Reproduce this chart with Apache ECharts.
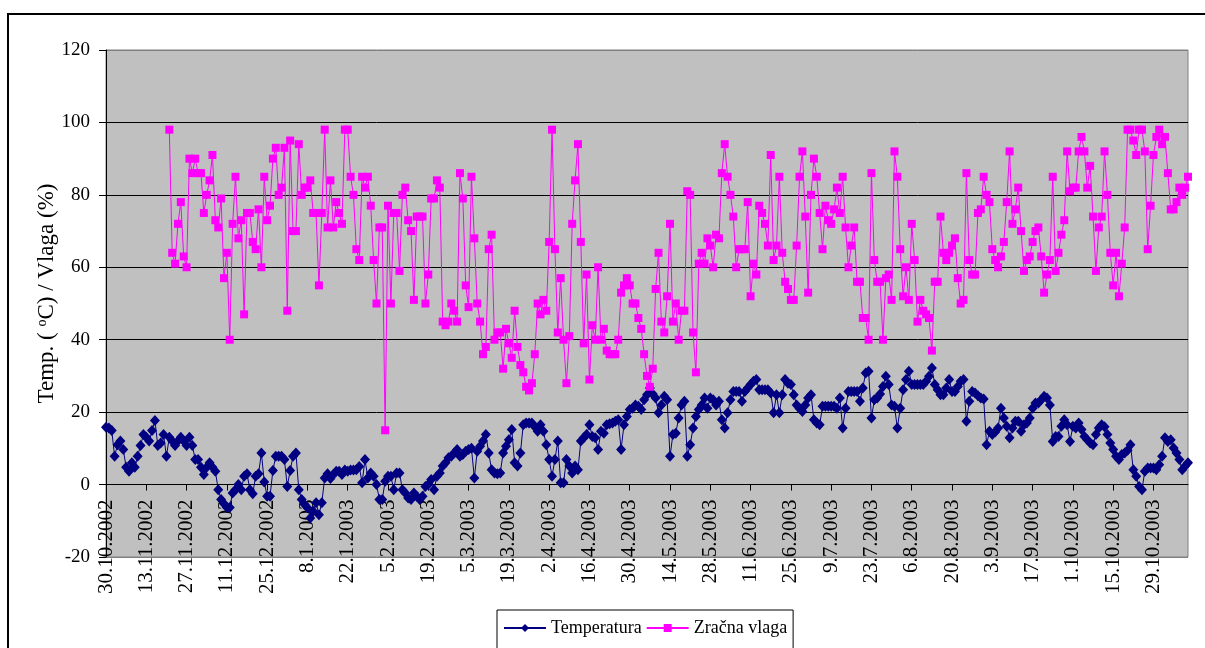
<!DOCTYPE html>
<html>
<head>
<meta charset="utf-8">
<script src="https://cdn.jsdelivr.net/npm/echarts@6/dist/echarts.min.js"></script>
<style>
  html, body { margin: 0; padding: 0; background: #ffffff; }
  #chart { width: 1205px; height: 648px; }
</style>
</head>
<body>
<div id="chart"></div>
<script>
// Daily series from 30.10.2002 (one value per day)
const startDay = { year: 2002, month: 10, day: 30 };
const dayCount = 377;

// Daily mean air temperature (°C)
const temperature = [
  15.8, 15.6, 14.9, 7.8, 11, 12, 9.7, 4.8, 3.7, 6,
  4.8, 7.8, 10.8, 13.8, 13.1, 12, 14.9, 17.7, 10.8, 11.5,
  13.8, 7.8, 13.1, 12, 10.8, 12, 13.1, 12, 10.8, 13.1,
  10.8, 6.9, 6.9, 4.8, 2.8, 4.8, 6, 4.8, 3.7, -1.4,
  -4.1, -5.3, -6.3, -6.3, -2.3, -1.4, 0, -1.4, 2.3, 3,
  -1.4, -2.5, 2.3, 3, 8.7, 0.7, -3.2, -3.2, 3.9, 7.8,
  7.8, 7.8, 6.9, -0.5, 3.9, 7.8, 8.7, -1.4, -4.1, -5.5,
  -6.4, -9.2, -7.4, -5, -8.3, -5, 1.8, 3, 1.7, 2.8,
  3.7, 3.7, 2.8, 4, 3.7, 4, 4, 4.1, 5, 0.5,
  6.9, 1.8, 3.2, 2.3, 0, -4.1, -4.1, 0.9, 2.3, 2.3,
  -1.4, 3.2, 3.2, -1.4, -2.3, -3.7, -4.1, -2.3, -3.2, -4.1,
  -3.2, -0.5, 0, 1.4, -1.4, 2.3, 3.2, 5.1, 6, 7.4,
  7.8, 8.7, 9.7, 7.8, 8.3, 9.2, 9.7, 10, 1.8, 9.2,
  10.6, 12, 13.8, 8.7, 4.1, 3.2, 3, 3.2, 8.7, 10.6,
  12.4, 15.2, 6, 5.1, 8.7, 16.5, 17, 17, 17, 16,
  14.7, 16.5, 14.7, 11, 6.9, 2.3, 6.9, 12, 0.5, 0.5,
  6.9, 5.1, 3.2, 5.1, 4.1, 12, 12.9, 13.8, 16.5, 13.3,
  12.9, 9.7, 14.7, 14.2, 16.5, 16.8, 17, 17.5, 17.9, 9.7,
  16.5, 18.8, 20.7, 21.1, 22, 21.6, 20.7, 23.4, 24.8, 26.7,
  25, 23.9, 19.8, 22, 24.4, 23.4, 7.8, 13.8, 14.2, 18.4,
  22, 23, 7.8, 11, 15.6, 18.8, 20.7, 22, 23.9, 21.1,
  23.9, 23.4, 22, 23, 17.9, 15.6, 19.8, 23.4, 25.7, 25.7,
  25.7, 23, 25.7, 26.7, 27.6, 28.5, 29, 26.2, 26.2, 26.2,
  26.2, 25.3, 19.8, 24.8, 19.8, 24.8, 29, 28, 27.6, 24.8,
  22, 21, 20.2, 22, 23.9, 24.8, 17.9, 17, 16.5, 21.6,
  21.6, 21.6, 21.6, 21.6, 21.1, 23.9, 15.6, 21.1, 25.7, 25.7,
  25.7, 25.7, 23, 26.7, 30.8, 31.3, 18.4, 23.4, 23.9, 25,
  27.1, 29.9, 27.6, 22, 21.6, 15.6, 21.1, 26.2, 29, 31.3,
  27.6, 27.6, 27.6, 27.6, 27.6, 28.5, 29.9, 32.2, 27.6, 26.2,
  24.8, 24.8, 26.7, 29, 25.7, 25.7, 27.1, 28.5, 29, 17.5,
  23, 25.7, 25.3, 24.5, 23.9, 23.6, 11, 14.7, 13.8, 14.5,
  15.6, 21.1, 18.4, 16.1, 12.9, 15.6, 17.5, 17.5, 14.7, 16.5,
  17, 18.4, 21.1, 22.5, 22.5, 23.4, 24.4, 23.9, 22, 11.9,
  13.3, 13.3, 16.1, 17.9, 16.5, 11.9, 16.1, 15.6, 17, 15.2,
  13.3, 12.4, 11.5, 11, 13.8, 15.6, 16.5, 16, 13.8, 11.5,
  9.7, 7.8, 6.9, 8.3, 8.7, 9.5, 11, 4.1, 2.3, -0.5,
  -1.4, 3.7, 4.6, 4.6, 4.6, 4.1, 5.5, 7.8, 12.9, 11.9,
  12.4, 10.1, 8.7, 6.9, 4.1, 5.1, 6
];

// Daily relative air humidity (%); measurements start on 21.11.2002
const humidity = [
  null, null, null, null, null, null, null, null, null, null,
  null, null, null, null, null, null, null, null, null, null,
  null, null, 98, 64, 61, 72, 78, 63, 60, 90,
  86, 90, 86, 86, 75, 80, 84, 91, 73, 71,
  79, 57, 64, 40, 72, 85, 68, 73, 47, 75,
  75, 67, 65, 76, 60, 85, 73, 77, 90, 93,
  80, 82, 93, 48, 95, 70, 70, 94, 80, 82,
  82, 84, 75, 75, 55, 75, 98, 71, 84, 71,
  78, 75, 72, 98, 98, 85, 80, 65, 62, 85,
  82, 85, 77, 62, 50, 71, 71, 15, 77, 50,
  75, 75, 59, 80, 82, 73, 70, 51, 74, 74,
  74, 50, 58, 79, 79, 84, 82, 45, 44, 45,
  50, 48, 45, 86, 79, 55, 49, 85, 68, 50,
  45, 36, 38, 65, 69, 40, 42, 42, 32, 43,
  39, 35, 48, 38, 33, 31, 27, 26, 28, 36,
  50, 47, 51, 48, 67, 98, 65, 42, 57, 40,
  28, 41, 72, 84, 94, 67, 39, 58, 29, 44,
  40, 60, 40, 43, 37, 36, 36, 36, 40, 53,
  55, 57, 55, 50, 50, 46, 43, 36, 30, 27,
  32, 54, 64, 45, 42, 52, 72, 45, 50, 40,
  48, 48, 81, 80, 42, 31, 61, 64, 61, 68,
  66, 60, 69, 68, 86, 94, 85, 80, 74, 60,
  65, 65, 65, 78, 52, 61, 58, 77, 75, 72,
  66, 91, 62, 66, 85, 64, 56, 54, 51, 51,
  66, 85, 92, 74, 53, 80, 90, 85, 75, 65,
  77, 73, 72, 76, 82, 75, 85, 71, 60, 66,
  71, 56, 56, 46, 46, 40, 86, 62, 56, 56,
  40, 57, 58, 51, 92, 85, 65, 52, 60, 51,
  72, 62, 45, 51, 48, 47, 46, 37, 56, 56,
  74, 64, 62, 64, 66, 68, 57, 50, 51, 86,
  62, 58, 58, 75, 76, 85, 80, 78, 65, 62,
  60, 63, 67, 78, 92, 72, 76, 82, 70, 59,
  62, 63, 67, 70, 71, 63, 53, 58, 62, 85,
  59, 64, 69, 73, 92, 81, 82, 82, 92, 96,
  92, 82, 88, 74, 59, 71, 74, 92, 80, 64,
  55, 64, 52, 61, 71, 98, 98, 95, 91, 98,
  98, 92, 65, 77, 91, 96, 98, 94, 96, 86,
  76, 76, 78, 82, 80, 82, 85
];

const seriesNames = ['Temperatura', 'Zračna vlaga'];
const yTicks = { min: -20, max: 120, step: 20 };
const labelEvery = 14; // days between date labels

// Day labels in d.m.yyyy form
const dates = [];
for (let i = 0; i < dayCount; i++) {
  const d = new Date(Date.UTC(startDay.year, startDay.month - 1, startDay.day + i));
  dates.push(d.getUTCDate() + '.' + (d.getUTCMonth() + 1) + '.' + d.getUTCFullYear());
}

const serif = "'Liberation Serif', 'Times New Roman', 'DejaVu Serif', serif";

const gridTop = 50, gridBottom = 91, chartHeight = 648;
// The date axis sits on the 0 line; shift it up from the plot's bottom edge
const plotHeight = chartHeight - gridTop - gridBottom;
const zeroOffset = -plotHeight * (0 - yTicks.min) / (yTicks.max - yTicks.min);

const chart = echarts.init(document.getElementById('chart'), null, { renderer: 'canvas' });

chart.setOption({
  animation: false,
  backgroundColor: '#ffffff',
  textStyle: { fontFamily: serif, color: '#000' },
  graphic: [{
    type: 'rect',
    silent: true,
    z: -10,
    shape: { x: 8, y: 14, width: 1300, height: 700 },
    style: { fill: 'none', stroke: '#000', lineWidth: 2 }
  }],
  grid: {
    left: 106, top: gridTop, right: 17, bottom: gridBottom,
    containLabel: false,
    outerBoundsMode: 'none',
    show: true,
    backgroundColor: '#c0c0c0',
    borderColor: '#808080',
    borderWidth: 1
  },
  legend: {
    left: 497, top: 610,
    itemWidth: 42, itemHeight: 10, itemGap: 4,
    padding: [9, 6, 22, 6],
    borderColor: '#000', borderWidth: 1,
    backgroundColor: '#fff',
    textStyle: { fontFamily: serif, fontSize: 18, color: '#000' },
    data: seriesNames
  },
  xAxis: {
    type: 'category',
    data: dates,
    boundaryGap: false,
    position: 'bottom',
    offset: zeroOffset,
    axisLine: { onZero: false, lineStyle: { color: '#000', width: 1 } },
    axisTick: { show: true, interval: labelEvery - 1, length: 6, lineStyle: { color: '#000' } },
    axisLabel: {
      interval: labelEvery - 1,
      rotate: 90,
      margin: 15,
      fontFamily: serif,
      fontSize: 21,
      color: '#000'
    },
    splitLine: { show: false }
  },
  yAxis: {
    type: 'value',
    min: yTicks.min, max: yTicks.max, interval: yTicks.step,
    name: '{a|Temp. ( }{s|o}{a|C) / Vlaga (%)}',
    nameLocation: 'middle',
    nameRotate: 90,
    nameGap: 48,
    nameMoveOverlap: false,
    nameTextStyle: {
      padding: [0, 0, 0, 20],
      rich: {
        a: { fontFamily: serif, fontSize: 23, color: '#000' },
        s: { fontFamily: serif, fontSize: 14, color: '#000', verticalAlign: 'top', padding: [0, 0, 9, 0] }
      }
    },
    axisLine: { show: true, onZero: false, lineStyle: { color: '#000', width: 1 } },
    axisTick: { show: true, length: 7, lineStyle: { color: '#000' } },
    axisLabel: { margin: 16, fontFamily: serif, fontSize: 19, color: '#000' },
    splitLine: {
      show: true,
      lineStyle: { color: ['#808080', '#000', '#000', '#000', '#000', '#000', '#000', '#808080'], width: 1 }
    }
  },
  series: [
    {
      name: seriesNames[0],
      type: 'line',
      data: temperature,
      symbol: 'diamond',
      symbolSize: [10, 11],
      showAllSymbol: true,
      lineStyle: { color: '#000080', width: 1 },
      itemStyle: { color: '#000080' },
      z: 3
    },
    {
      name: seriesNames[1],
      type: 'line',
      data: humidity,
      symbol: 'rect',
      symbolSize: 8,
      showAllSymbol: true,
      connectNulls: false,
      lineStyle: { color: '#ff00ff', width: 1 },
      itemStyle: { color: '#ff00ff' },
      z: 4
    }
  ]
});
</script>
</body>
</html>
